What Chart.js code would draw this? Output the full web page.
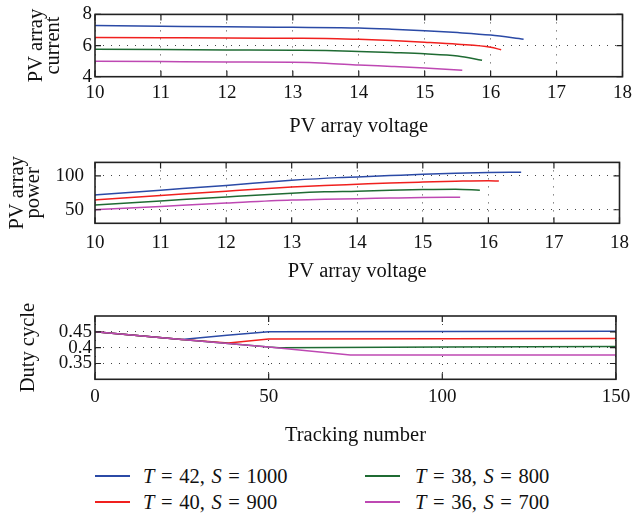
<!DOCTYPE html>
<html>
<head>
<meta charset="utf-8">
<script src="https://cdn.jsdelivr.net/npm/chart.js@4.4.1/dist/chart.umd.min.js"></script>
<style>
  body { margin: 0; background: #fff; font-family: "Liberation Serif", serif; }
  #wrap { position: relative; width: 637px; height: 518px; overflow: hidden; }
  canvas { position: absolute; left: 0; }
  .item { position: absolute; height: 24px; line-height: 24px; font-size: 20.5px; color: #111; white-space: nowrap; word-spacing: 1.5px; }
  .swatch { position: absolute; left: 0; top: 11px; width: 35px; height: 1.5px; }
  .label { position: absolute; top: 0; }
</style>
</head>
<body>
<div id="wrap">
  <canvas id="current_chart" width="637" height="140" style="top:0"></canvas>
  <canvas id="power_chart" width="637" height="150" style="top:140px"></canvas>
  <canvas id="duty_chart" width="637" height="160" style="top:290px"></canvas>
  <div id="legend"></div>
</div>
<script>
// series: temperature / irradiance
const seriesT = [42, 40, 38, 36];
const seriesS = [1000, 900, 800, 700];
const seriesColors = ['#2b4aa6', '#f0201e', '#1f6b33', '#be48b3'];

// PV array voltage samples for each series
const voltage42 = [10, 11, 12, 13, 13.7, 14, 14.5, 15, 15.5, 16, 16.5];
const voltage40 = [10, 11, 12, 13, 13.5, 14, 14.5, 15, 15.5, 16, 16.16];
const voltage38 = [10, 11, 12, 13, 13.5, 14, 14.5, 15, 15.5, 15.87];
const voltage36 = [10, 11, 12, 13, 13.5, 14, 14.5, 15, 15.57];

// PV array current
const current42 = [7.28, 7.24, 7.2, 7.17, 7.15, 7.13, 7.05, 6.95, 6.83, 6.67, 6.4];
const current40 = [6.52, 6.5, 6.48, 6.47, 6.46, 6.4, 6.32, 6.21, 6.08, 5.89, 5.73];
const current38 = [5.76, 5.74, 5.72, 5.7, 5.68, 5.62, 5.55, 5.47, 5.33, 5.05];
const current36 = [4.99, 4.97, 4.95, 4.93, 4.87, 4.75, 4.66, 4.56, 4.42];

// PV array power
const power42 = [72, 79, 86, 93.5, 97.5, 98.5, 100.5, 102.5, 104, 105, 105.5];
const power40 = [64.5, 71, 77.5, 83.5, 85.8, 87.7, 89.6, 91, 92.2, 93, 92.4];
const power38 = [57, 63, 69, 74.5, 76.5, 77.5, 79, 80, 80.5, 79];
const power36 = [50, 55, 60, 64.5, 65.5, 66.3, 67.3, 68.2, 68.6];

// duty cycle vs tracking number
const track42 = [0, 25, 38, 50, 100, 150];
const duty42 = [0.45, 0.426, 0.439, 0.45, 0.451, 0.452];
const track40 = [0, 25, 38.4, 50, 100, 150];
const duty40 = [0.45, 0.426, 0.415, 0.427, 0.428, 0.429];
const track38 = [0, 25, 50, 53, 100, 150];
const duty38 = [0.45, 0.426, 0.402, 0.4, 0.402, 0.404];
const track36 = [0, 25, 50, 73.5, 100, 150];
const duty36 = [0.45, 0.426, 0.402, 0.377, 0.377, 0.377];

const voltages = [voltage42, voltage40, voltage38, voltage36];
const currents = [current42, current40, current38, current36];
const powers = [power42, power40, power38, power36];
const tracks = [track42, track40, track38, track36];
const duties = [duty42, duty40, duty38, duty36];

function seriesName(i){
    return 'T = ' + seriesT[i] + ', S = ' + seriesS[i];
}

function toPoints(xs, ys){
    return xs.map((x, k) => ({x: x, y: ys[k]}));
}

function buildDatasets(xsList, ysList, smooth){
    return xsList.map((xs, i) => ({
        label: seriesName(i),
        data: toPoints(xs, ysList[i]),
        borderColor: seriesColors[i],
        backgroundColor: seriesColors[i],
        borderWidth: 1.5,
        pointRadius: 0,
        fill: false,
        cubicInterpolationMode: smooth ? 'monotone' : 'default',
        order: 3 - i
    }));
}

// box around the plot area + small inward tick marks
const frameAndTicks = {
    id: 'frameAndTicks',
    afterDraw(chart){
        const ctx = chart.ctx;
        const a = chart.chartArea;
        const xs = chart.scales.x;
        const ys = chart.scales.y;
        const len = 6;
        ctx.save();
        ctx.strokeStyle = '#222';
        ctx.lineWidth = 1.2;
        ctx.beginPath();
        xs.ticks.forEach((t, i) => {
            const px = xs.getPixelForTick(i);
            ctx.moveTo(px, a.bottom); ctx.lineTo(px, a.bottom - len);
            ctx.moveTo(px, a.top); ctx.lineTo(px, a.top + len);
        });
        ys.ticks.forEach((t, i) => {
            const py = ys.getPixelForTick(i);
            ctx.moveTo(a.left, py); ctx.lineTo(a.left + len, py);
            ctx.moveTo(a.right, py); ctx.lineTo(a.right - len, py);
        });
        ctx.stroke();
        ctx.lineWidth = 1.6;
        ctx.strokeRect(a.left, a.top, a.right - a.left, a.bottom - a.top);
        ctx.restore();
    }
};

const serif = "'Liberation Serif', serif";
const tickFont = {family: serif, size: 19};
const titleFont = {family: serif, size: 20.5};

function makeChart(id, datasets, cfg){
    const ctx = document.getElementById(id).getContext('2d');
    return new Chart(ctx, {
        type: 'line',
        data: {datasets: datasets},
        options: {
            responsive: false,
            animation: false,
            layout: {padding: {top: cfg.top, right: 14, left: 0, bottom: 0}},
            plugins: {legend: {display: false}, tooltip: {enabled: false}},
            scales: {
                x: {
                    type: 'linear',
                    min: cfg.xMin, max: cfg.xMax,
                    ticks: {stepSize: cfg.xStep, font: tickFont, color: '#111', padding: cfg.xTickPad, maxRotation: 0},
                    grid: {color: '#444', lineWidth: 1, drawTicks: false},
                    border: {display: false, dash: [1, 7]},
                    title: {display: true, text: cfg.xTitle, font: titleFont, color: '#111',
                            padding: {top: 0, bottom: cfg.xTitlePad}},
                    afterFit: s => { s.height = cfg.xHeight; }
                },
                y: {
                    type: 'linear',
                    min: cfg.yMin, max: cfg.yMax,
                    afterBuildTicks: s => { s.ticks = cfg.yTicks.map(v => ({value: v})); },
                    ticks: {font: tickFont, color: '#111', padding: cfg.yTickPad, callback: v => String(v)},
                    grid: {color: '#444', lineWidth: 1, drawTicks: false},
                    border: {display: false, dash: [1, 7]},
                    title: {display: true, text: cfg.yTitle, color: '#111',
                            font: {family: serif, size: 20.5, lineHeight: '16.5px'},
                            padding: {top: cfg.yTitlePad, bottom: 0}},
                    afterFit: s => { s.width = 95; }
                }
            }
        },
        plugins: [frameAndTicks]
    });
}

makeChart('current_chart', buildDatasets(voltages, currents, true), {
    top: 13.3, xHeight: 63.3, xTickPad: 5, xTitlePad: 1.4,
    xMin: 10, xMax: 18, xStep: 1, xTitle: 'PV array voltage',
    yMin: 4, yMax: 8, yTicks: [4, 6, 8], yTickPad: 3,
    yTitle: ['PV array', 'current'], yTitlePad: 28.5
});

makeChart('power_chart', buildDatasets(voltages, powers, true), {
    top: 20.7, xHeight: 66.7, xTickPad: 8, xTitlePad: 5.7,
    xMin: 10, xMax: 18, xStep: 1, xTitle: 'PV array voltage',
    yMin: 30, yMax: 120, yTicks: [50, 100], yTickPad: 11,
    yTitle: ['PV array', 'power'], yTitlePad: 9
});

makeChart('duty_chart', buildDatasets(tracks, duties, false), {
    top: 26, xHeight: 70.7, xTickPad: 6.8, xTitlePad: 1.9,
    xMin: 0, xMax: 150, xStep: 50, xTitle: 'Tracking number',
    yMin: 0.3, yMax: 0.5, yTicks: [0.35, 0.4, 0.45], yTickPad: 3,
    yTitle: 'Duty cycle', yTitlePad: 20.7
});

// legend in two columns: (42, 40) left, (38, 36) right
const legendCols = [95, 365];
const legendRows = [464, 490];
const legendTextLeft = [48, 50];
const legend = document.getElementById('legend');
seriesT.forEach((t, i) => {
    const col = i < 2 ? 0 : 1;
    const row = i % 2;
    const item = document.createElement('div');
    item.className = 'item';
    item.style.left = legendCols[col] + 'px';
    item.style.top = legendRows[row] + 'px';
    item.innerHTML = '<span class="swatch" style="background:' + seriesColors[i] + '"></span>' +
        '<span class="label" style="left:' + legendTextLeft[col] + 'px"><i>T</i> = ' + t +
        ', <i>S</i> = ' + seriesS[i] + '</span>';
    legend.appendChild(item);
});
</script>
</body>
</html>
